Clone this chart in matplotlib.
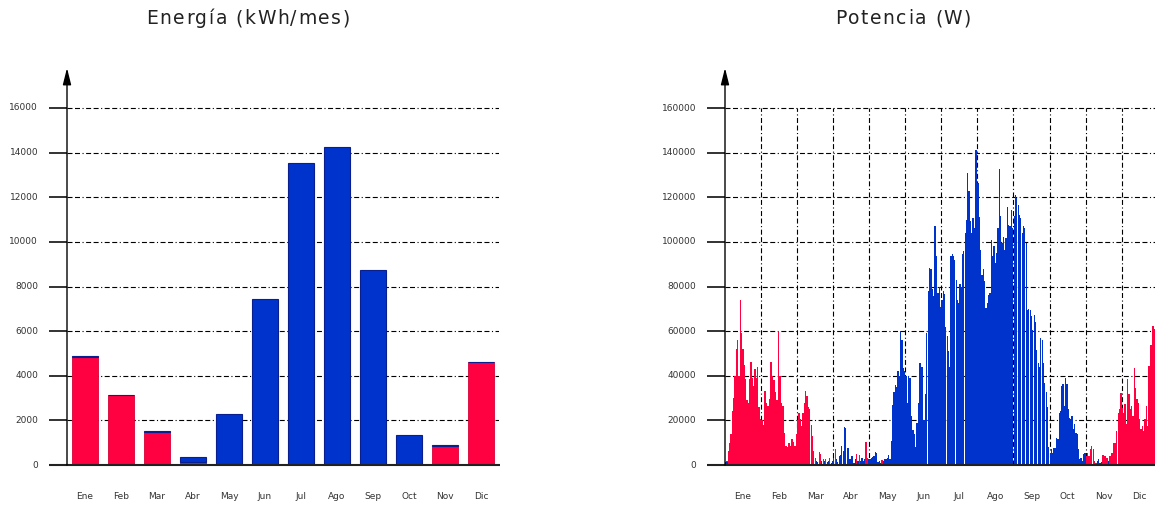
import matplotlib
matplotlib.use("Agg")
import matplotlib.pyplot as plt
from matplotlib.font_manager import findfont, FontProperties, get_font
import numpy as np

plt.rcParams['font.family'] = ['DejaVu Sans']
plt.rcParams['lines.scale_dashes'] = False

# ---------------- data ----------------
months = ['Ene', 'Feb', 'Mar', 'Abr', 'May', 'Jun', 'Jul', 'Ago', 'Sep', 'Oct', 'Nov', 'Dic']
energy_heat_kwh = [4830, 3125, 1467, 120, 30, 0, 0, 0, 0, 0, 830, 4637]
energy_cool_kwh = [60, 0, 44, 250, 2237, 7440, 13540, 14250, 8760, 1348, 59, 0]
energy_yticks = [0, 2000, 4000, 6000, 8000, 10000, 12000, 14000, 16000]
power_yticks = [0, 20000, 40000, 60000, 80000, 100000, 120000, 140000, 160000]

# power samples within each month (W); red = heating, blue = cooling
heat_ene = [0, 1800, 6300, 10000, 14000, 24000, 30000, 40000, 52000, 56000, 40000, 74000, 59000, 52000,
            45000, 38500, 29000, 28000, 38500, 46000, 39000, 35500, 43000, 39000, 44000, 26000, 20500]
cool_ene = [1500, 1200, 0, 0, 0, 0, 0, 0, 0, 0, 0, 0, 0, 0,
            0, 0, 0, 0, 0, 0, 0, 0, 0, 0, 0, 0, 0]
heat_feb = [20000, 18000, 33000, 28000, 26500, 29500, 46000, 40000, 38000, 32500, 29000, 60000,
            40000, 28000, 26500, 14500, 8500, 8000, 9700, 8500, 11500, 10500, 8500, 14000]
cool_feb = []
heat_mar = [20000, 23500, 20500, 17500, 23500, 28000, 33000, 31000, 26000, 25000, 18000, 13000, 6300, 3300,
            0, 0, 5800, 4800, 0, 2500, 0, 2500, 0, 0, 3300, 0, 0]
cool_mar = [0, 0, 0, 0, 0, 0, 0, 0, 0, 0, 0, 0, 0, 0,
            1800, 1350, 0, 0, 1800, 0, 1800, 0, 1400, 1800, 0, 1000, 1800]
heat_abr = [0, 7300, 0, 0, 0, 0, 0, 0, 0, 0, 0, 0, 0, 0,
            0, 0, 0, 4800, 0, 4400, 0, 0, 0, 0, 10300, 3000, 0]
cool_abr = [3300, 0, 2500, 1400, 4000, 4400, 8500, 6300, 17000, 16800, 7800, 7800, 2500, 4000,
            4000, 1000, 2500, 0, 1800, 0, 1800, 3300, 1800, 2500, 0, 0, 2500]
heat_may = [0, 0, 0, 0, 0, 0, 0, 0, 0, 2100, 0, 0, 0, 0,
            0, 0, 0, 0, 0, 0, 0, 0, 0, 0, 0, 0, 0]
cool_may = [2500, 3300, 3600, 4000, 5800, 5500, 1400, 1800, 1000, 0, 1800, 2500, 2500, 3300,
            4400, 2500, 10800, 27000, 32500, 36000, 35000, 42000, 40000, 60000, 56000, 43500, 42000]
heat_jun = []
cool_jun = [40000, 27800, 40000, 39000, 21800, 15800, 14000, 8000, 18800, 27800, 45800, 44000, 44000,
            20000, 32000, 59000, 78000, 88500, 87700, 78800, 75800, 107000, 93700, 77000, 80000, 71000]
heat_jul = []
cool_jul = [74000, 78000, 76500, 62000, 57700, 51000, 44000, 93700, 94500, 93700, 92000, 83000, 74000, 72700,
            81000, 80000, 94500, 96000, 104000, 110000, 131000, 122700, 109200, 104000, 110700, 106200,
            141400, 141400]
heat_ago = []
cool_ago = [126400, 111000, 96500, 85300, 87800, 82300, 70300, 72600, 76300, 77000, 101000, 93500, 98300,
            90500, 95000, 106200, 132700, 111500, 99500, 102000, 96500, 101700, 115600, 107700, 107000,
            114400, 106200]
heat_sep = []
cool_sep = [111500, 121200, 119700, 116700, 112200, 110700, 104000, 107000, 106200, 99500, 69600, 69900,
            69600, 66600, 60600, 67300, 64300, 51600, 45600, 44100, 56800, 56100, 45600, 36600, 32900,
            26200, 8200]
heat_oct = []
cool_oct = [5500, 7000, 5500, 7800, 7800, 12200, 11500, 23400, 24200, 35400, 36100, 26400, 39100, 36100,
            24900, 21200, 20500, 21900, 16000, 18200, 14500, 13700, 7000, 2500, 3300, 1800, 4800, 5500]
heat_nov = [4000, 5500, 4000, 7000, 8500, 7000, 1800, 1000, 0, 0, 0, 0, 4500, 4000, 4000, 3300, 0,
            4000, 5500, 5500, 10000, 10000, 15200, 23400, 24900, 32400]
cool_nov = [0, 0, 0, 0, 0, 0, 0, 0, 1800, 2500, 1000, 1300, 0, 0, 0, 0, 1800,
            0, 0, 0, 0, 0, 0, 0, 0, 0]
heat_dic = [25700, 23400, 27200, 18200, 38400, 31700, 24900, 26400, 21900, 43600, 34600, 29400, 27900,
            20500, 16000, 17500, 15200, 20500, 26400, 17500, 44300, 54000, 54000, 62300, 60800, 63800, 66000]
cool_dic = []

heat_months = [heat_ene, heat_feb, heat_mar, heat_abr, heat_may, heat_jun,
               heat_jul, heat_ago, heat_sep, heat_oct, heat_nov, heat_dic]
cool_months = [cool_ene, cool_feb, cool_mar, cool_abr, cool_may, cool_jun,
               cool_jul, cool_ago, cool_sep, cool_oct, cool_nov, cool_dic]

# ---------------- style ----------------
RED = '#FF0040'
BLUE = '#0033CC'
TXT = '#333333'
GRID_DASH = (0, (3.6, 1.8, 3.6, 1.8, 0.8, 1.8))

W, H = 1155, 508
fig = plt.figure(figsize=(W / 100, H / 100), dpi=100)

def px_axes(x0, y_bottom, width, y_top):
    return fig.add_axes([x0 / W, (H - y_bottom) / H, width / W, (y_bottom - y_top) / H])

def decorate(ax, yticks, ymax_grid, vgrid, xline_end):
    ax.axis('off')
    ax.set_xlim(0, 12)
    for v in yticks:
        if v > 0:
            ax.hlines(v, 0, 12, colors='black', linewidth=0.8, linestyles=[GRID_DASH], zorder=1)
        ax.hlines(v, -0.5, 0, colors='#222222', linewidth=1.3, clip_on=False, zorder=4)
        ax.text(-0.8, v, f'{v}', ha='right', va='center', fontsize=6.5, color=TXT, clip_on=False)
    if vgrid:
        for m in range(1, 12):
            ax.vlines(m, 0, ymax_grid, colors='black', linewidth=0.8, linestyles=[GRID_DASH], zorder=1)
    ax.hlines(0, -0.5, xline_end, colors='#222222', linewidth=1.5, clip_on=False, zorder=5)
    ax.annotate('', xy=(0, 1), xycoords='axes fraction', xytext=(0, 0), textcoords='axes fraction',
                arrowprops=dict(arrowstyle='-|>,head_length=1.0,head_width=0.25', mutation_scale=10,
                                color='black', lw=1.0, shrinkA=0, shrinkB=0), zorder=6)
    for i, name in enumerate(months):
        ax.text(i + 0.5, -0.08, name, transform=ax.get_xaxis_transform(), ha='center', va='center',
                fontsize=6.5, color=TXT, clip_on=False)

def spaced_title(text, xc_px, yc_px, size=13.5, spacing_px=1.5):
    font = get_font(findfont(FontProperties(family='DejaVu Sans')))
    font.set_size(size, 100)
    advs = []
    for ch in text:
        g = font.load_char(ord(ch))
        advs.append(g.linearHoriAdvance / 65536.0)
    total = sum(advs) + spacing_px * (len(text) - 1)
    x = xc_px - total / 2
    for ch, adv in zip(text, advs):
        if ch != ' ':
            fig.text(x / W, 1 - yc_px / H, ch, ha='left', va='center_baseline', fontsize=size,
                     color='#222222')
        x += adv + spacing_px

# ---------------- left: energy ----------------
ax1 = px_axes(67, 465, 432, 68)
ax1.set_ylim(0, 16000 * 397 / 357)
decorate(ax1, energy_yticks, 16000, False, 12.03)
x = np.arange(12) + 0.5
ax1.bar(x, energy_heat_kwh, width=0.72, color=RED, edgecolor='#d80036', linewidth=0.6, zorder=3)
ax1.bar(x, energy_cool_kwh, width=0.72, bottom=energy_heat_kwh, color=BLUE,
        edgecolor='#0a1f8f', linewidth=0.8, zorder=3)

# ---------------- right: power ----------------
ax2 = px_axes(725, 465, 432.7, 68)
ax2.set_ylim(0, 160000 * 397 / 357)
decorate(ax2, power_yticks, 160000, True, 12.5)
for m in range(12):
    for vals, col in ((heat_months[m], RED), (cool_months[m], BLUE)):
        n = len(vals)
        if n == 0:
            continue
        xs = m + (np.arange(n) + 0.5) / n
        ax2.bar(xs, vals, width=0.95 / n, color=col, linewidth=0, zorder=3)

# titles
spaced_title('Energía (kWh/mes)', 248, 17)
spaced_title('Potencia (W)', 903, 17)

fig.savefig('out.png', dpi=100)
